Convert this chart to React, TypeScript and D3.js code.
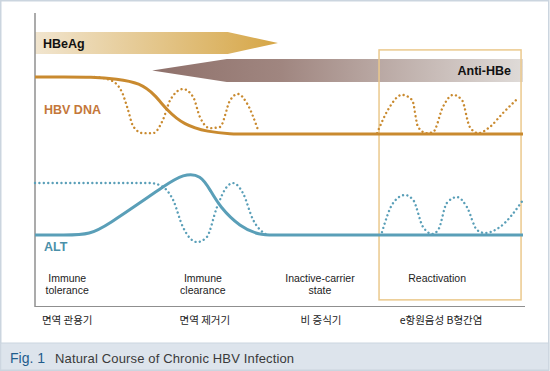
import React from "react";
import * as d3 from "d3";

// ---- data (time units 0..100, level units 0..100) ----
const hbvSolid: [number, number][] = [
  [0, 78.4], [6, 78.4], [11.5, 78.4], [16.8, 77.8], [21.5, 76.4], [24.6, 72.3], [27.0, 67.1],
  [30.5, 62.0], [35.5, 59.6], [40.0, 58.9], [44, 58.9], [48, 58.9], [95, 58.9], [100, 58.9],
];
const hbvDotted1: [number, number][] = [
  [12.3, 78.4], [15.4, 77.4], [17.8, 73.3], [19.0, 67.5], [20.1, 61.6], [22.1, 59.2],
  [24.2, 59.2], [26.2, 63.7], [27.7, 70.5], [30.3, 74.3], [32.4, 71.6], [33.8, 64.7],
  [35.9, 60.9], [37.9, 61.3], [40.0, 70.5], [41.6, 72.6], [43.4, 69.5], [45.7, 60.3],
];
const hbvDotted2: [number, number][] = [
  [70.1, 59.2], [72.3, 67.1], [75.2, 72.3], [77.3, 70.5], [78.5, 61.3], [80.3, 59.2],
  [81.6, 59.6], [83.6, 68.2], [85.7, 72.3], [87.5, 70.5], [89.1, 61.3], [90.8, 59.2],
  [93.2, 61.3], [95.9, 66.1], [99.0, 71.2],
];
const altSolid: [number, number][] = [
  [0, 24.3], [6, 24.3], [11.3, 24.3], [15.4, 28.4], [21.5, 35.3], [26.2, 40.8], [30.5, 45.4],
  [34.0, 44.9], [35.9, 39.7], [37.9, 33.9], [42.0, 27.1], [46.0, 24.3], [49, 24.3], [52, 24.3],
  [95, 24.3], [100, 24.3],
];
const altDotted1: [number, number][] = [
  [0, 42.1], [23.6, 42.1], [26.2, 40.8], [28.3, 36.3], [30.3, 27.1], [33.2, 21.9],
  [35.2, 23.6], [37.3, 33.9], [39.3, 40.8], [40.6, 42.1], [42.6, 38.7], [44.7, 29.5],
  [47.5, 24.3],
];
const altDotted2: [number, number][] = [
  [71.1, 25.3], [73.4, 35.3], [75.8, 38.0], [77.5, 36.3], [79.5, 27.1], [81.4, 24.7],
  [82.6, 26.0], [84.4, 35.3], [86.5, 37.3], [88.5, 33.9], [90.6, 26.0], [92.2, 25.0],
  [95.3, 27.1], [100, 36.3],
];
// arrows: [start, shoulder, tip] in time units, [bottom, top] in level units
const hbeagX = [0, 39.5, 49.8];
const hbeagY = [86.3, 93.8];
const antiX = [24.0, 39.3, 100];
const antiY = [76.7, 84.6];
const reactBoxX = [70.5, 99.6];
const reactBoxY = [2.1, 87.7];
const phases = ["Immune\ntolerance", "Immune\nclearance", "Inactive-carrier\nstate", "Reactivation"];
const phaseCenters = [6.6, 34.4, 58.4, 82.4];
const phasesKo = ["면역 관용기", "면역 제거기", "비 증식기", "e항원음성 B형간염"];
const phasesKoCenters = [6.6, 34.8, 58.6, 83.2];

const W = 550, H = 371;
const x = d3.scaleLinear().domain([0, 100]).range([35, 523]);
const y = d3.scaleLinear().domain([0, 100]).range([306, 14]);
const smooth = d3.line<[number, number]>().x(d => x(d[0])).y(d => y(d[1])).curve(d3.curveBasis);
const line = d3.line<[number, number]>().x(d => x(d[0])).y(d => y(d[1])).curve(d3.curveMonotoneX);

const GOLD = "#c98a2f";
const TEAL = "#5a9fb8";
const SANS = "'Liberation Sans', Arial, Helvetica, sans-serif";
const KO = "'Noto Sans CJK KR', sans-serif";

export default function App() {
  const hbeagPts = [
    [x(hbeagX[0]), y(hbeagY[1])], [x(hbeagX[1]), y(hbeagY[1])],
    [x(hbeagX[2]), (y(hbeagY[0]) + y(hbeagY[1])) / 2],
    [x(hbeagX[1]), y(hbeagY[0])], [x(hbeagX[0]), y(hbeagY[0])],
  ].map(p => p.join(",")).join(" ");
  const antiPts = [
    [x(antiX[0]), (y(antiY[0]) + y(antiY[1])) / 2], [x(antiX[1]), y(antiY[1])],
    [x(antiX[2]), y(antiY[1])], [x(antiX[2]), y(antiY[0])], [x(antiX[1]), y(antiY[0])],
  ].map(p => p.join(",")).join(" ");
  const dot = { fill: "none", strokeWidth: 2.4, strokeLinecap: "round" as const, strokeDasharray: "0.01 4.4" };
  return (
    <svg width={W} height={H} style={{ position: "absolute", left: 0, top: 0, display: "block", background: "#fff" }}>
      <defs>
        <linearGradient id="gHbeag" x1="0" x2="1" y1="0" y2="0">
          <stop offset="0" stopColor="#f1e5cf" />
          <stop offset="1" stopColor="#d6a646" />
        </linearGradient>
        <linearGradient id="gAnti" x1="0" x2="1" y1="0" y2="0">
          <stop offset="0" stopColor="#8f716b" />
          <stop offset="0.35" stopColor="#a08680" />
          <stop offset="1" stopColor="#dfdbd8" />
        </linearGradient>
      </defs>
      <rect x={0.75} y={0.75} width={W - 2} height={H - 1.5} fill="#fff" stroke="#cbd5df" strokeWidth={1.5} />
      <rect x={0.75} y={343} width={W - 2} height={27} fill="#dde4ec" stroke="#cbd5df" strokeWidth={1} />

      {/* arrows */}
      <polygon points={hbeagPts} fill="url(#gHbeag)" />
      <polygon points={antiPts} fill="url(#gAnti)" />
      <text x={x(hbeagX[0]) + 8} y={48} fontFamily={SANS} fontWeight="bold" fontSize={12.5} fill="#111">HBeAg</text>
      <text x={x(antiX[2]) - 12} y={75} textAnchor="end" fontFamily={SANS} fontWeight="bold" fontSize={12.5} fill="#111">Anti-HBe</text>

      {/* reactivation box */}
      <rect x={x(reactBoxX[0])} y={y(reactBoxY[1])} width={x(reactBoxX[1]) - x(reactBoxX[0])} height={y(reactBoxY[0]) - y(reactBoxY[1])}
        fill="none" stroke="#ebc98c" strokeWidth={1.5} />

      {/* axes */}
      <line x1={35} x2={35} y1={13} y2={307} stroke="#8f8f8f" strokeWidth={1.5} />
      <line x1={35} x2={525} y1={306.5} y2={306.5} stroke="#8f8f8f" strokeWidth={1.2} />

      {/* curves */}
      <path d={smooth(hbvSolid) || ""} fill="none" stroke={GOLD} strokeWidth={3} />
      <path d={line(hbvDotted1) || ""} stroke={GOLD} {...dot} />
      <path d={line(hbvDotted2) || ""} stroke={GOLD} {...dot} />
      <path d={smooth(altSolid) || ""} fill="none" stroke={TEAL} strokeWidth={3} />
      <path d={line(altDotted1) || ""} stroke={TEAL} {...dot} />
      <path d={line(altDotted2) || ""} stroke={TEAL} {...dot} />

      <text x={44} y={114} fontFamily={SANS} fontWeight="bold" fontSize={12.5} fill="#c4773a">HBV DNA</text>
      <text x={44} y={251} fontFamily={SANS} fontWeight="bold" fontSize={12.5} fill="#4b90a9">ALT</text>

      {phases.map((p, i) => (
        <text key={p} x={x(phaseCenters[i])} y={282} textAnchor="middle" fontFamily={SANS} fontSize={10.5} fill="#222">
          {p.split("\n").map((s, j) => (
            <tspan key={j} x={x(phaseCenters[i])} dy={j === 0 ? 0 : 11.5}>{s}</tspan>
          ))}
        </text>
      ))}
      {phasesKo.map((p, i) => (
        <text key={p} x={x(phasesKoCenters[i])} y={324} textAnchor="middle" fontFamily={KO} fontSize={10.5} fill="#222">{p}</text>
      ))}

      <text x={10} y={363} fontFamily={SANS} fontSize={14} fill="#1f5c8c">Fig. 1</text>
      <text x={55} y={362.5} fontFamily={SANS} fontSize={13} letterSpacing={0.15} fill="#3a3a3a">Natural Course of Chronic HBV Infection</text>
    </svg>
  );
}
